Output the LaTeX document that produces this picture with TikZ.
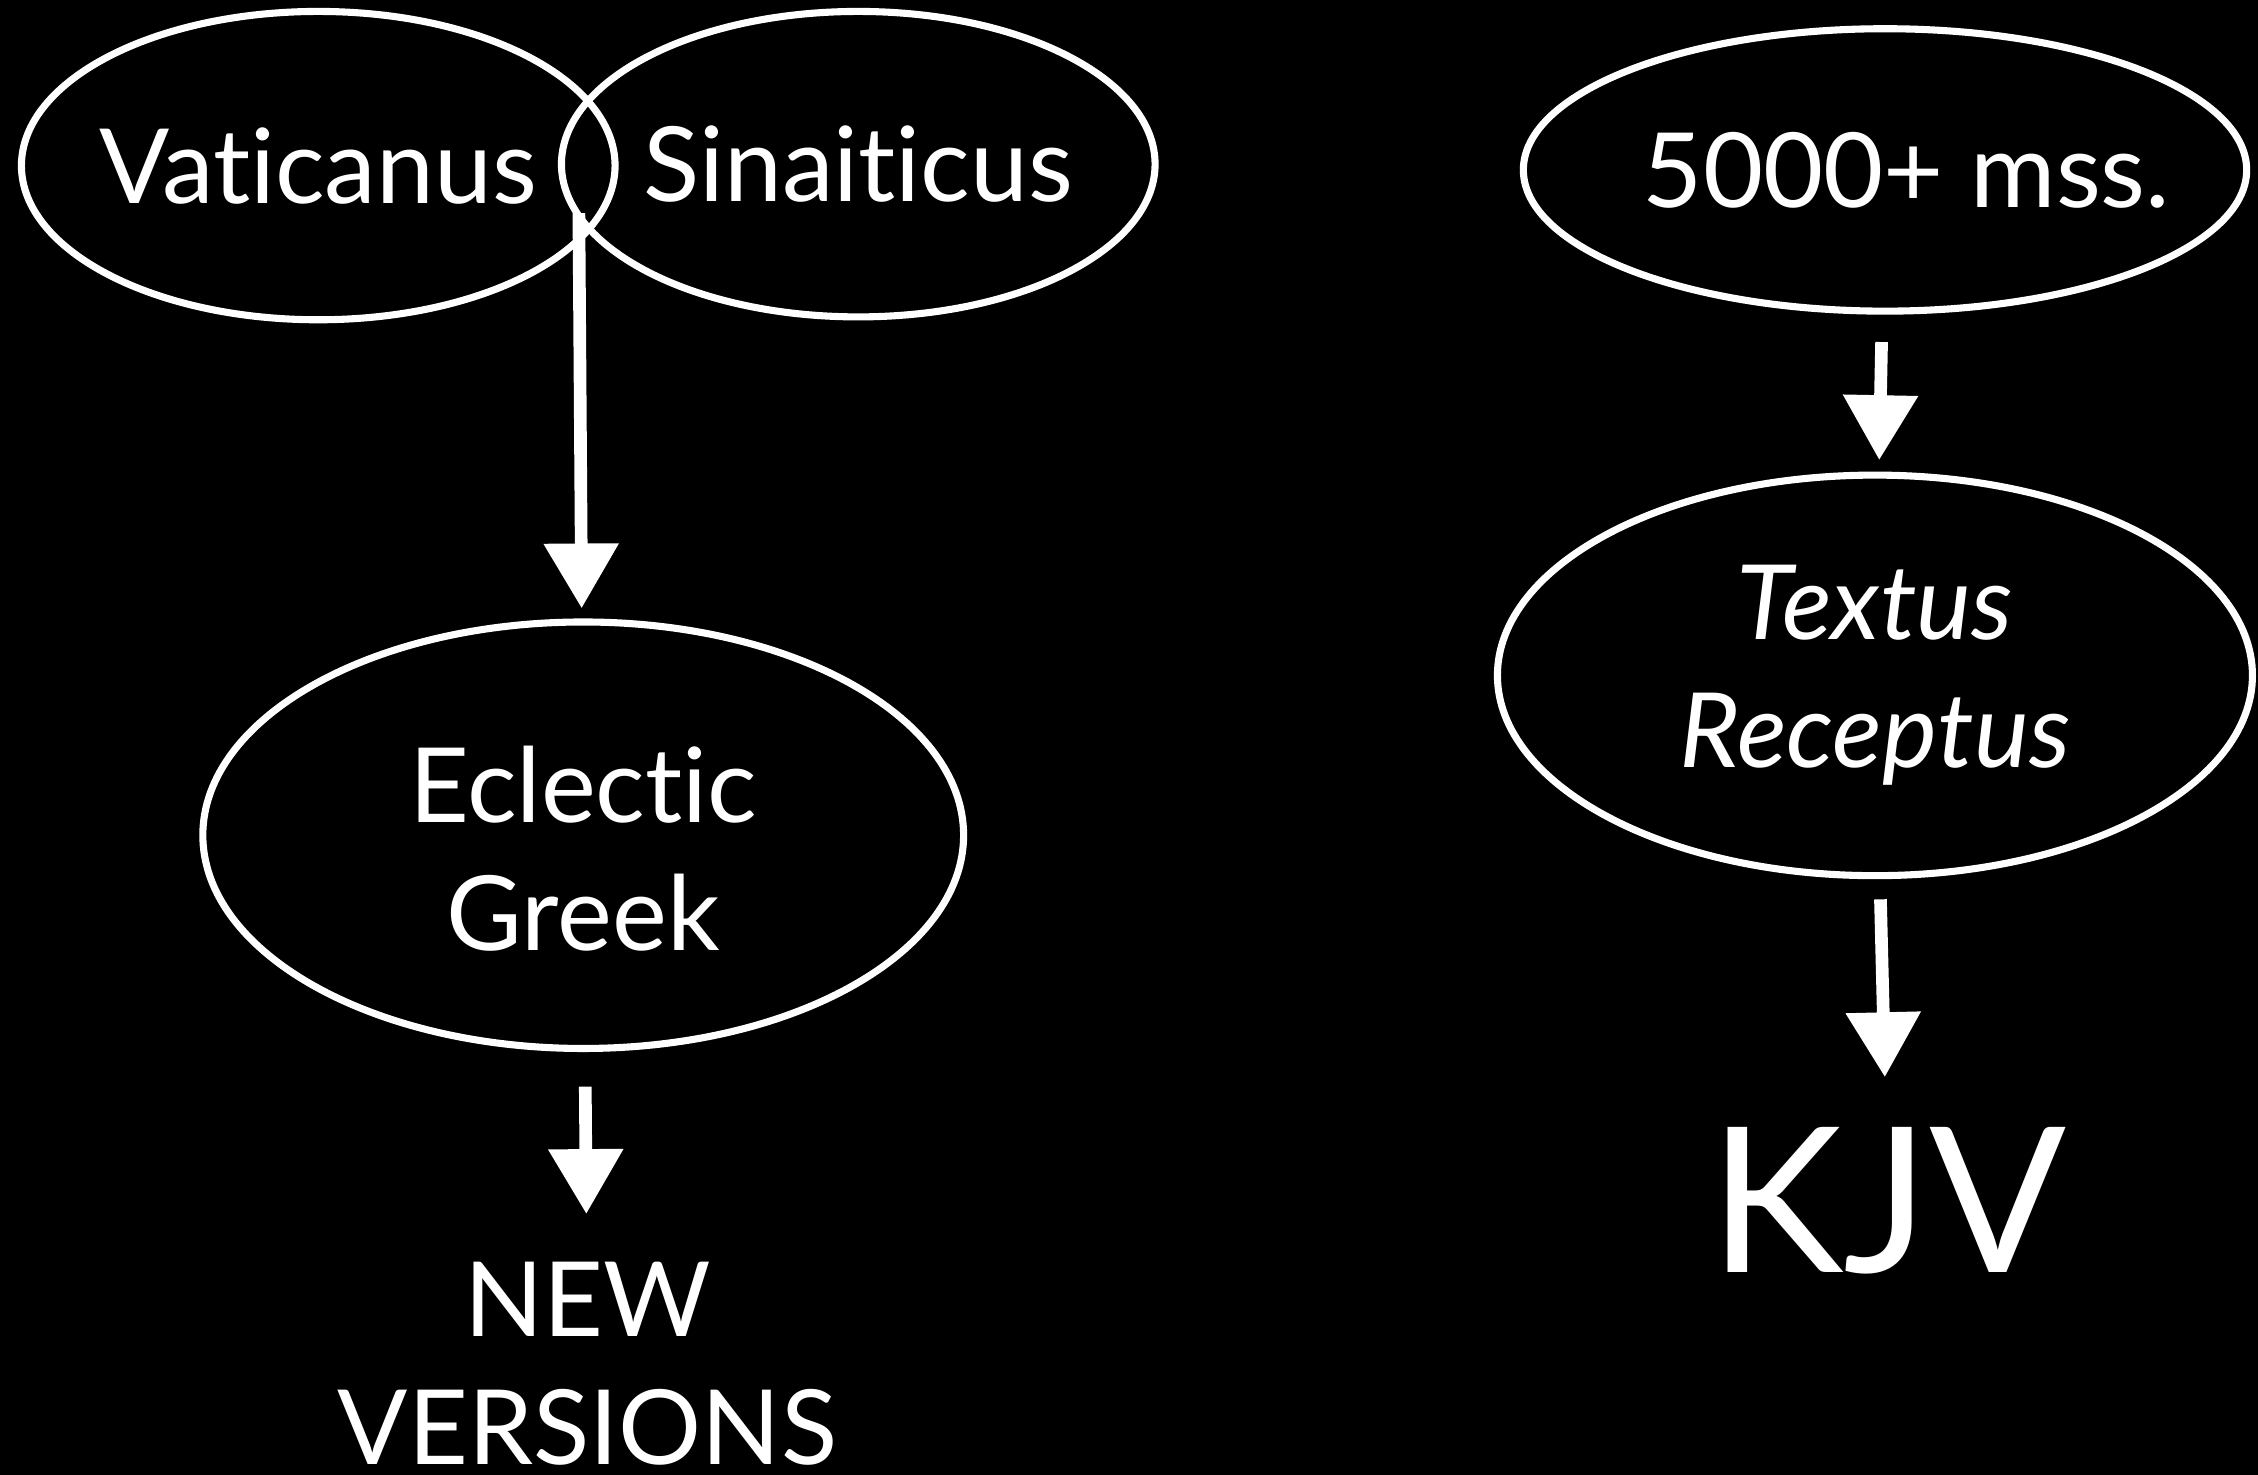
\documentclass[tikz,border=0pt]{standalone}
\usepackage{fontspec}
\setmainfont{Lato}[Ligatures={NoCommon,NoRare}]
\usetikzlibrary{shapes.geometric,arrows.meta}

\tikzset{
  ms/.style={shape=ellipse,draw=white,line width=1.4pt,inner sep=0pt},
  lbl/.style={inner sep=0pt,align=center},
  flow/.style={draw=white,line width=2.5pt,-{Triangle[width=5mm,length=4.5mm]}}
}

\begin{document}
\begin{tikzpicture}[x=0.01cm,y=-0.01cm,every node/.style={text=white,font=\fontsize{20.5}{25.2}\selectfont}]
%[background]
\fill[black] (0,0) rectangle (1568,1024);
\useasboundingbox (0,0) rectangle (1568,1024);

\path (221,115) node (vat) [ms,minimum width=4.12cm,minimum height=2.14cm] {\makebox[0pt]{Vaticanus}};
\path (596,114) node (sin) [ms,minimum width=4.12cm,minimum height=2.12cm] {\makebox[0pt]{Sinaiticus}};
\path (1309,118) node (mss) [ms,minimum width=5.02cm,minimum height=1.96cm] {\makebox[0pt]{\hspace*{0.3cm}5000+ mss.}};
\path (1302,469) node (tr) [ms,minimum width=5.24cm,minimum height=2.78cm,align=center] {\itshape Textus\\\itshape Receptus};
\path (405,580) node (eg) [ms,minimum width=5.28cm,minimum height=2.96cm,align=center] {\rule{0pt}{0.72cm}Eclectic\\Greek};
\path (408,876) node (newv) [lbl,anchor=north] {NEW\\VERSIONS};
\path (1311,782) node (kjv) [lbl,anchor=north,font=\fontsize{40}{48}\selectfont] {KJV};
\coordinate (merge) at (402,148);

\draw [flow,shorten >=0.07cm] (merge) to (eg);
\draw [flow,shorten <=0.24cm,shorten >=0.33cm] (eg) to (newv);
\draw [flow,shorten <=0.19cm,shorten >=0.08cm] (mss) to (tr);
\draw [flow,shorten <=0.14cm,shorten >=0.34cm] (tr) to (kjv);
\end{tikzpicture}
\end{document}
